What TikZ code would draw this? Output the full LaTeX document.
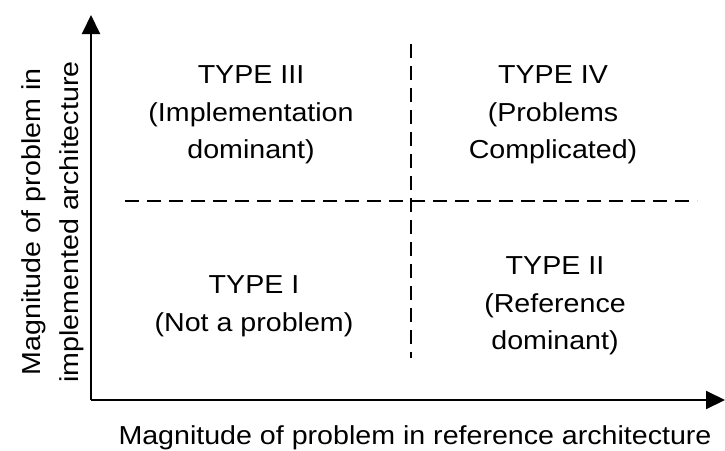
\documentclass[tikz,border=0pt]{standalone}
\usepackage{fontspec}
\setmainfont{Liberation Sans}[FakeStretch=1.1]
\usetikzlibrary{arrows.meta}
\begin{document}
\begin{tikzpicture}[x=1pt,y=-1pt,
  axis/.style={line width=2pt,-{Triangle[length=19pt,width=18pt]}},
  divider/.style={line width=2pt,dash pattern=on 14pt off 8pt},
  lbl/.style={align=center,font=\fontsize{26}{37.5}\selectfont,inner sep=0pt}]
\useasboundingbox (0,0) rectangle (725,450);
\coordinate (o) at (91,400);
\coordinate (ytop) at (91,15);
\coordinate (xend) at (725,400);
\draw[axis] (o) -- (ytop);
\draw[axis] (o) -- (xend);
\coordinate (hl) at (125,201);
\coordinate (hr) at (697,201);
\coordinate (vt) at (411,44);
\coordinate (vb) at (411,358);
\draw[divider] (hl) -- (hr);
\draw[divider] (vt) -- (vb);
\node[lbl] (t3) at (251,115) {TYPE III\\(Implementation\\dominant)};
\node[lbl] (t4) at (553,115) {TYPE IV\\(Problems\\Complicated)};
\node[lbl] (t1) at (254,306) {TYPE I\\(Not a problem)};
\node[lbl] (t2) at (555,306) {TYPE II\\(Reference\\dominant)};
\node[lbl] (xl) at (415,438) {Magnitude of problem in reference architecture};
\node[lbl,rotate=90] (yl) at (53,222) {Magnitude of problem in\\implemented architecture};
\end{tikzpicture}
\end{document}
